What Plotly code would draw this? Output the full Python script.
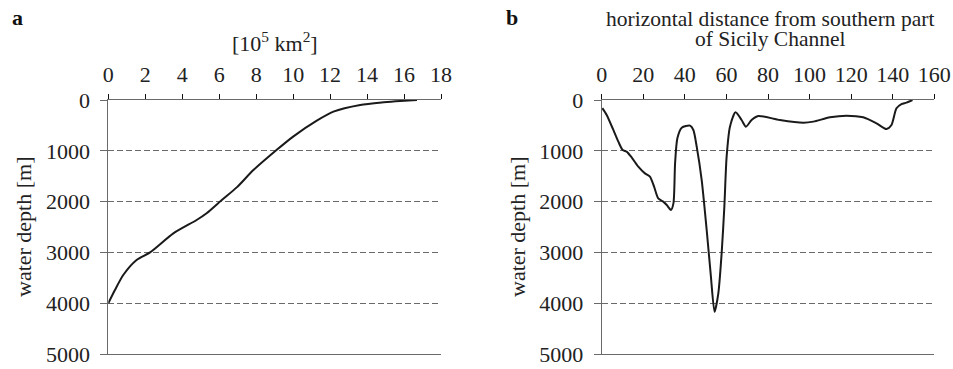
import plotly.graph_objects as go

# ---- data (panel a: hypsometric curve) ----
area_1e5km2 = [0, 0.36, 0.81, 1.53, 2.26, 3.52, 4.78, 5.32, 6.14, 6.95, 7.85, 9.1,
               10.0, 11.28, 12.18, 13.63, 14.9, 15.8, 16.7]
depth_a = [4000, 3740, 3445, 3150, 3000, 2625, 2362, 2230, 1970, 1720, 1380, 985,
           720, 407, 230, 98, 46, 20, 0]

# ---- data (panel b: section from southern Sicily Channel) ----
distance = [0.3, 2.4, 5.6, 8.0, 10.1, 12.0, 14.4, 17.6, 20.8, 23.2, 25.2, 27.2, 29.6,
            31.3, 33.3, 34.5, 35.3, 36.4, 38.5, 42.5, 44.1, 45.7, 48.1, 50.5, 52.4,
            54.3, 56.1, 57.7, 59.0, 60.1, 61.7, 64.4, 67.3, 69.4, 72.1, 75.3, 85.7,
            97, 101.8, 109.8, 117.8, 125.8, 132.2, 137, 139.4, 141.8, 144.2, 146.6, 149.5]
depth_b = [160, 295, 590, 820, 985, 1017, 1129, 1312, 1444, 1509, 1706, 1936, 2001,
           2067, 2165, 2034, 1247, 755, 545, 505, 590, 919, 1575, 2559, 3412,
           4170, 3806, 3018, 2100, 1115, 525, 240, 394, 525, 394, 315, 394,
           446, 426, 341, 308, 341, 459, 571, 492, 164, 79, 52, 0]

depth_ticks = [0, 1000, 2000, 3000, 4000, 5000]
xticks_a = list(range(0, 19, 2))
xticks_b = list(range(0, 161, 20))

W, H = 953, 369
FONT = "Liberation Serif, Times New Roman, serif"
TXT = "#222222"
GRID = "#6a6a6a"
FS = 22

fig = go.Figure()
line_style = dict(color="#1a1a1a", width=2, shape="spline", smoothing=0.7)
fig.add_trace(go.Scatter(x=area_1e5km2, y=depth_a, mode="lines", line=line_style,
                         xaxis="x", yaxis="y", showlegend=False))
fig.add_trace(go.Scatter(x=distance, y=depth_b, mode="lines", line=line_style,
                         xaxis="x2", yaxis="y2", showlegend=False))

ydom = [1 - 354 / H, 1 - 100 / H]
xdom_a = [108.3 / W, 441 / W]
xdom_b = [601.7 / W, 934.3 / W]


def xaxis(dom, rng, ticks, anchor):
    return dict(domain=dom, range=rng, side="top", anchor=anchor, tickvals=ticks,
                showline=True, linecolor=GRID, linewidth=1, mirror=True,
                ticks="outside", ticklen=5, tickcolor="#111", tickwidth=1,
                showgrid=False, zeroline=False, automargin=False,
                tickfont=dict(family=FONT, size=FS, color=TXT), ticklabelstandoff=3)


def yaxis(anchor):
    return dict(domain=ydom, range=[5000, 0], anchor=anchor, tickvals=depth_ticks,
                showline=True, linecolor=GRID, linewidth=1,
                ticks="outside", ticklen=7, tickcolor=GRID, tickwidth=1,
                showgrid=True, gridcolor=GRID, gridwidth=1, griddash="6px,3px",
                zeroline=True, zerolinecolor="#111", zerolinewidth=1.2,
                automargin=False, ticklabelstandoff=6,
                tickfont=dict(family=FONT, size=FS, color=TXT))


fig.update_layout(
    width=W, height=H, margin=dict(l=0, r=0, t=0, b=0),
    paper_bgcolor="white", plot_bgcolor="white",
    xaxis=xaxis(xdom_a, [0, 18], xticks_a, "y"),
    yaxis=yaxis("x"),
    xaxis2=xaxis(xdom_b, [0, 160], xticks_b, "y2"),
    yaxis2=yaxis("x2"),
    font=dict(family=FONT, color=TXT),
)

ann = []


def add(text, x, y, size=FS, angle=0, bold=False):
    ann.append(dict(text=f"<b>{text}</b>" if bold else text, x=x / W, y=1 - y / H,
                    xref="paper", yref="paper", showarrow=False, textangle=angle,
                    xanchor="center", yanchor="middle",
                    font=dict(family=FONT, size=size, color="#111" if bold else TXT)))


add("a", 17, 17, size=22, bold=True)
add("b", 512, 17, size=22, bold=True)
add("[10<sup>5</sup> km<sup>2</sup>]", 274.5, 42)
add("horizontal distance from southern part", 770, 19, size=21.5)
add("of Sicily Channel", 770, 39, size=21.5)
add("water depth [m]", 23, 227, angle=-90)
add("water depth [m]", 517, 227, angle=-90)
fig.update_layout(annotations=ann)

fig.write_html("out.html")
